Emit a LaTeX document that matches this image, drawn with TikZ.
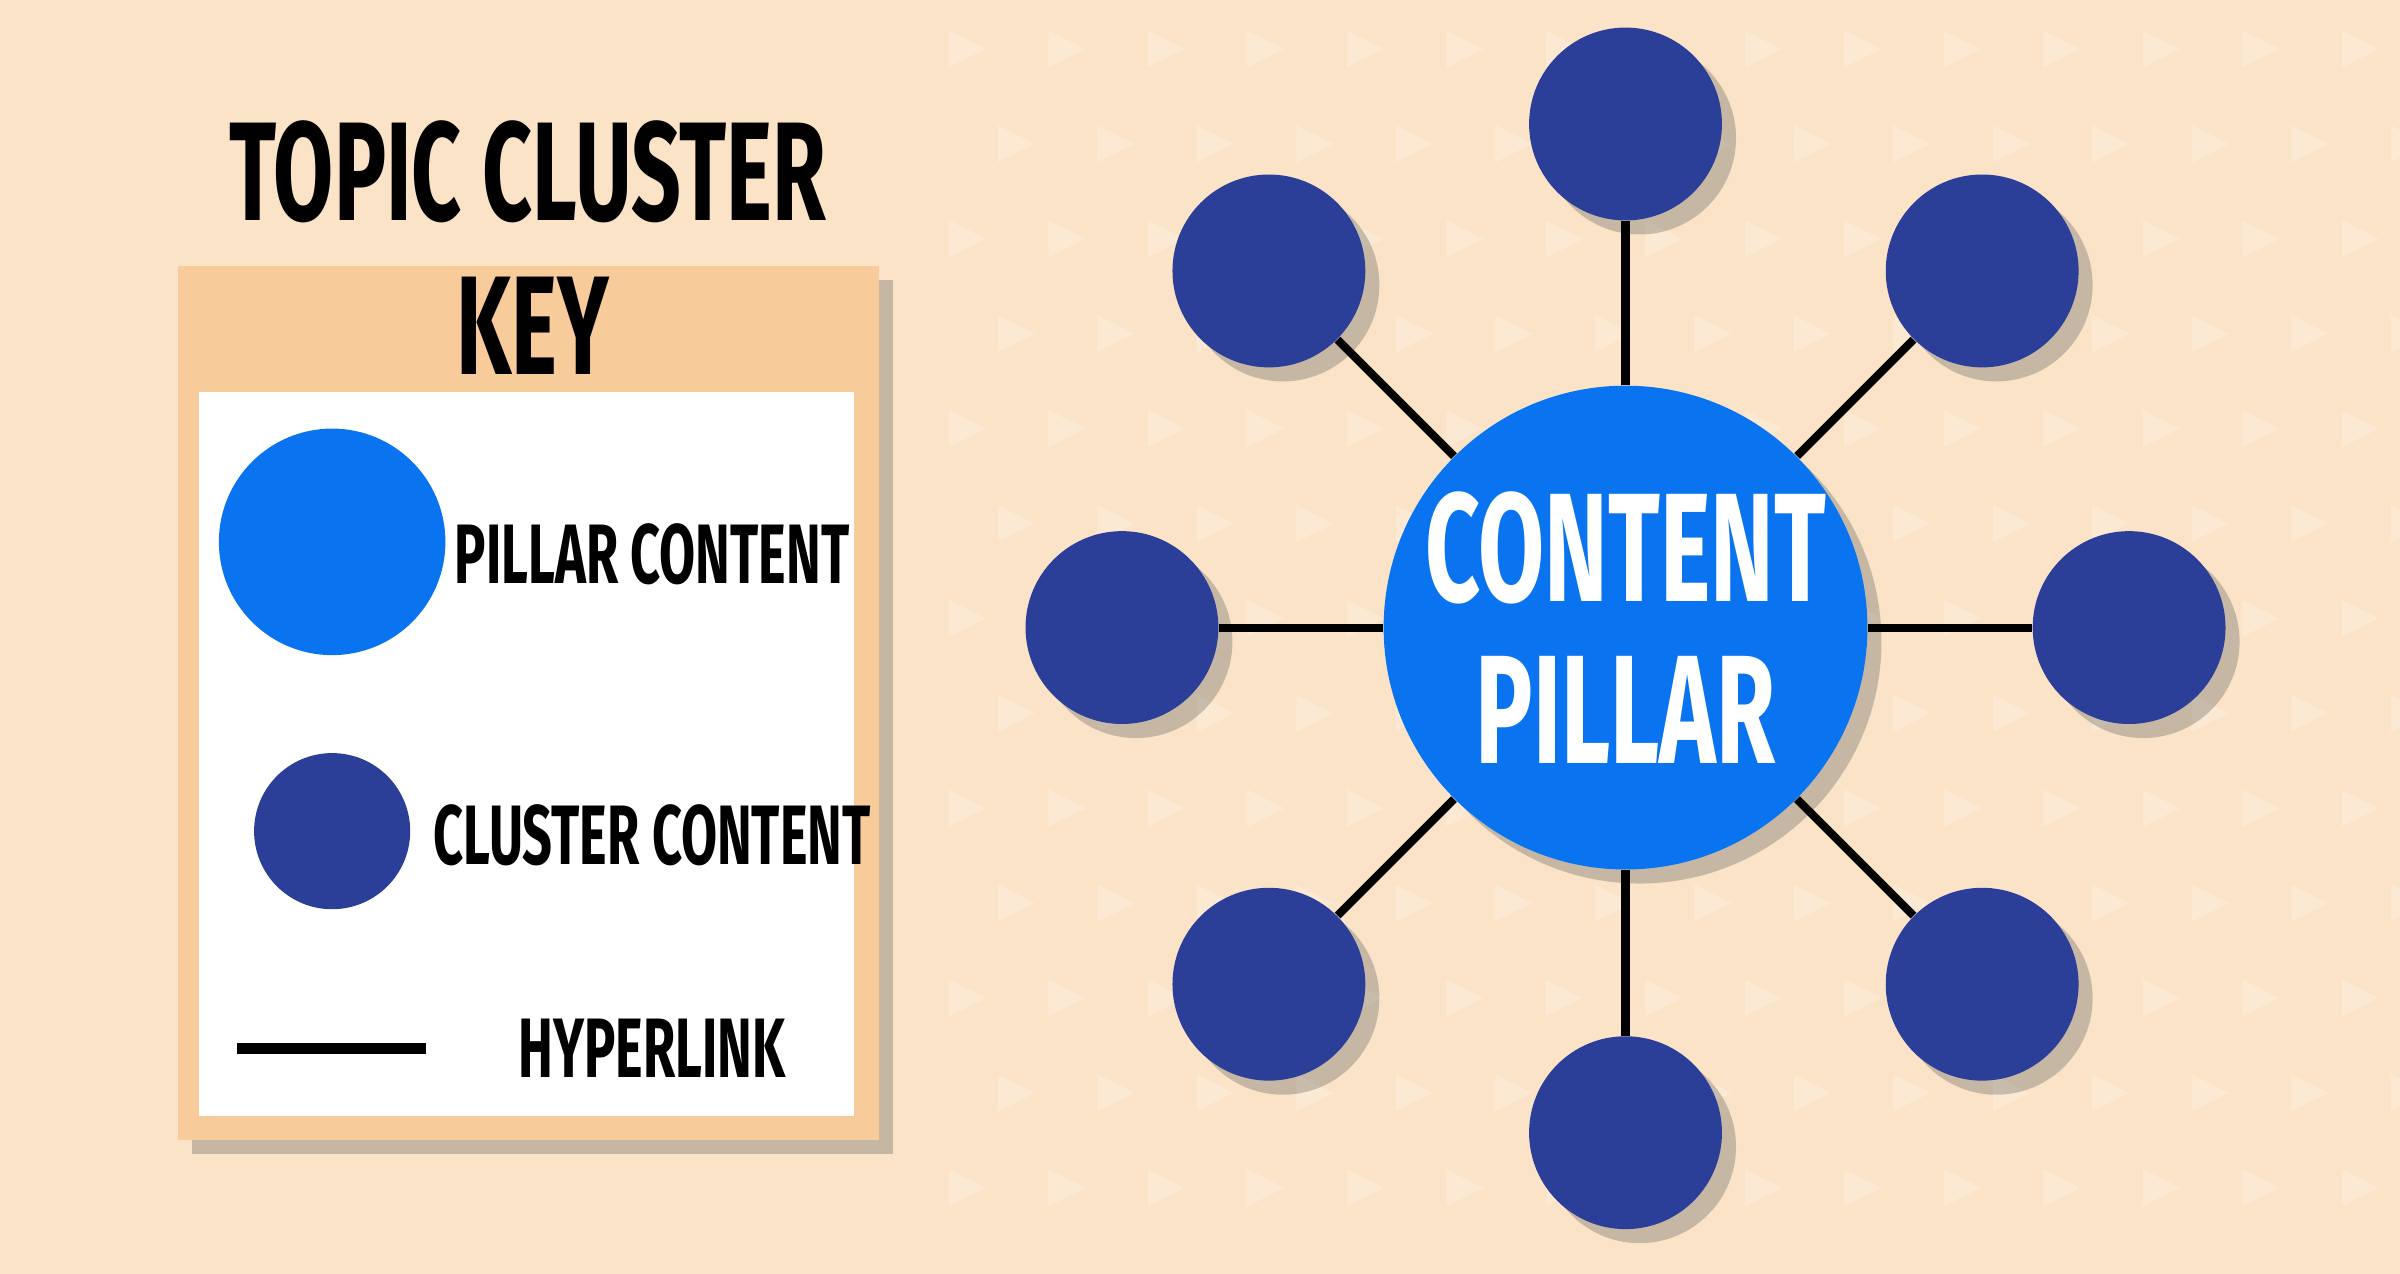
\documentclass[tikz,border=0pt]{standalone}
\usepackage{fontspec}
\setmainfont{Fira Sans}
\usetikzlibrary{shadows}
\definecolor{bg}{HTML}{FBE3C7}
\definecolor{tri}{HTML}{FDEEDC}
\definecolor{keyor}{HTML}{F7CB9A}
\definecolor{pillar}{HTML}{0A74F0}
\definecolor{cluster}{HTML}{2B3F98}
\newcommand{\cond}[1]{\scalebox{0.62}[1]{\bfseries #1}}
\begin{document}
\begin{tikzpicture}[x=0.015306cm,y=-0.015306cm,
  sh/.style={drop shadow={shadow xshift=4pt,shadow yshift=-4pt,opacity=0.35,fill=black!60}},
  sat/.style={circle,fill=cluster,minimum size=126\pgflinewidth,inner sep=0pt,sh},
  link/.style={line width=2.3pt,black},
  lab/.style={font=\fontsize{24}{24}\selectfont,anchor=center}]
\fill[bg] (0,0) rectangle (1568,832);
\useasboundingbox (0,0) rectangle (1568,832);
% faint triangles
\foreach \i in {0,...,14}{\foreach \j in {0,...,12}{
  \pgfmathsetmacro\xx{620+\i*65+mod(\j,2)*32}
  \pgfmathsetmacro\yy{20+\j*62}
  \fill[tri,opacity=0.6] (\xx,\yy) -- (\xx+24,\yy+12) -- (\xx,\yy+24) -- cycle;}}
\node[font=\fontsize{40}{40}\selectfont] (title) at (345,112) {\cond{TOPIC CLUSTER}};
% key
\node[draw=none,fill=keyor,minimum width=458*0.015306cm,minimum height=571*0.015306cm,sh,anchor=north west,inner sep=0] (keybox) at (116,173) {};
\fill[white] (130,256) rectangle (558,729);
\node[font=\fontsize{40}{40}\selectfont] (key) at (348,213) {\cond{KEY}};
\node[circle,fill=pillar,minimum size=148*0.015306cm,inner sep=0] (kp) at (217,354) {};
\node[lab] (kpl) at (426,362) {\cond{PILLAR CONTENT}};
\node[circle,fill=cluster,minimum size=102*0.015306cm,inner sep=0] (kc) at (217,543) {};
\node[lab] (kcl) at (426,546) {\cond{CLUSTER CONTENT}};
\coordinate (h1) at (155,685); \coordinate (h2) at (278,685);
\draw[line width=3pt] (h1) -- (h2);
\node[lab] (khl) at (426,685) {\cond{HYPERLINK}};
% cluster
\node[circle,fill=pillar,minimum size=270*0.015306cm,inner sep=0,sh,text=white,align=center,font=\fontsize{44}{48}\selectfont] (c) at (1062,410) {\cond{CONTENT}\\[-2pt]\cond{PILLAR}};
\foreach \n/\x/\y in {a/1062/81,b/829/177,d/1295/177,e/733/410,f/1391/410,g/829/643,h/1295/643,i/1062/740}{
  \node[circle,fill=cluster,minimum size=126*0.015306cm,inner sep=0,sh] (\n) at (\x,\y) {};}
\begin{scope}[on background layer/.style={}]
\end{scope}
\foreach \n in {a,b,d,e,f,g,h,i}{\draw[link] (c) -- (\n);}
\end{tikzpicture}
\end{document}
